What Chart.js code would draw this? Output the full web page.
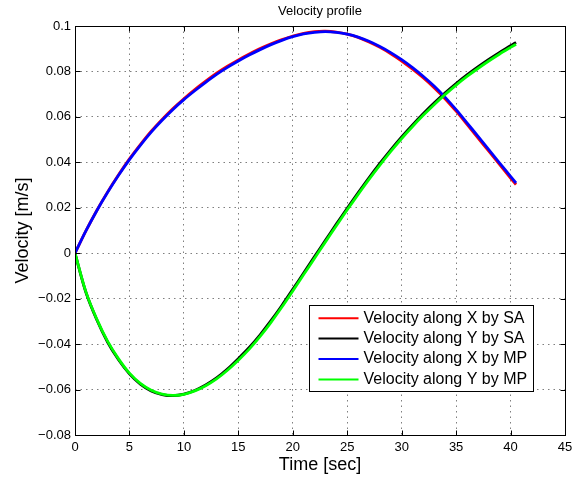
<!DOCTYPE html>
<html>
<head>
<meta charset="utf-8">
<title>Velocity profile</title>
<script src="https://cdn.jsdelivr.net/npm/chart.js@4.4.1/dist/chart.umd.min.js"></script>
<style>
    html, body { margin: 0; padding: 0; background: #fff; }
    canvas { display: block; }
</style>
</head>
<body>
<canvas id="velocityChart" width="584" height="477"></canvas>
<script>
// Sample times [sec]
const timeSec = [0, 1, 2, 3, 4, 5, 6, 7, 8, 9, 10, 11, 12, 13, 14, 15, 16, 17, 18, 19, 20,
    21, 22, 23, 24, 25, 26, 27, 28, 29, 30, 31, 32, 33, 34, 35, 36, 37, 38, 39, 40, 40.5];

// Velocity [m/s]
const vxSA = [0, 0.0098, 0.0188, 0.0270, 0.0345, 0.0415, 0.0478, 0.0537, 0.0589, 0.0637, 0.0680,
    0.0720, 0.0757, 0.0792, 0.0823, 0.0851, 0.0877, 0.0901, 0.0922, 0.0940, 0.0956,
    0.0968, 0.0975, 0.0977, 0.0973, 0.0964, 0.0950, 0.0930, 0.0906, 0.0878, 0.0846,
    0.0810, 0.0771, 0.0727, 0.0679, 0.0625, 0.0567, 0.0508, 0.0449, 0.0390, 0.0331, 0.0302];

const vySA = [0, -0.0172, -0.0293, -0.0392, -0.0469, -0.0531, -0.0576, -0.0606, -0.0622, -0.0627, -0.0620,
    -0.0604, -0.0580, -0.0549, -0.0510, -0.0464, -0.0415, -0.0359, -0.0297, -0.0230, -0.0159,
    -0.0087, -0.0015, 0.0057, 0.0128, 0.0198, 0.0266, 0.0332, 0.0395, 0.0455, 0.0512,
    0.0565, 0.0615, 0.0662, 0.0706, 0.0747, 0.0785, 0.0820, 0.0853, 0.0884, 0.0913, 0.0928];

const vxMP = [0, 0.0098, 0.0187, 0.0268, 0.0343, 0.0412, 0.0475, 0.0533, 0.0585, 0.0633, 0.0676,
    0.0715, 0.0752, 0.0787, 0.0818, 0.0846, 0.0872, 0.0896, 0.0918, 0.0937, 0.0953,
    0.0965, 0.0972, 0.0975, 0.0972, 0.0964, 0.0951, 0.0933, 0.0910, 0.0883, 0.0852,
    0.0817, 0.0778, 0.0735, 0.0686, 0.0632, 0.0574, 0.0515, 0.0456, 0.0397, 0.0338, 0.0309];

const vyMP = [0, -0.0170, -0.0290, -0.0388, -0.0465, -0.0528, -0.0573, -0.0603, -0.0620, -0.0626, -0.0621,
    -0.0606, -0.0583, -0.0553, -0.0515, -0.0471, -0.0422, -0.0366, -0.0304, -0.0237, -0.0166,
    -0.0094, -0.0022, 0.0050, 0.0121, 0.0191, 0.0259, 0.0325, 0.0388, 0.0448, 0.0505,
    0.0558, 0.0608, 0.0655, 0.0699, 0.0740, 0.0778, 0.0813, 0.0846, 0.0877, 0.0906, 0.0920];

const seriesLabels = ['Velocity along X by SA', 'Velocity along Y by SA', 'Velocity along X by MP', 'Velocity along Y by MP'];
const seriesColors = ['#ff0000', '#000000', '#0000ff', '#00ff00'];

const xTickValues = [0, 5, 10, 15, 20, 25, 30, 35, 40, 45];
const xTickLabels = ['0', '5', '10', '15', '20', '25', '30', '35', '40', '45'];
const yTickValues = [-0.08, -0.06, -0.04, -0.02, 0, 0.02, 0.04, 0.06, 0.08, 0.1];
const yTickLabels = ['\u22120.08', '\u22120.06', '\u22120.04', '\u22120.02', '0', '0.02', '0.04', '0.06', '0.08', '0.1'];

const FONT = '"Liberation Sans", Arial, Helvetica, sans-serif';
Chart.defaults.font.family = FONT;
Chart.defaults.color = '#000';

function makeSeries(index, values) {
    return {
        label: seriesLabels[index],
        data: timeSec.map((t, i) => ({ x: t, y: values[i] })),
        borderColor: seriesColors[index],
        backgroundColor: seriesColors[index],
        borderWidth: 2.8,
        pointRadius: 0,
        tension: 0.3,
        fill: false,
        // later series are painted over earlier ones
        order: 4 - index
    };
}

// box around the axes, inward tick marks, title and the legend inside the plot
const axesDecor = {
    id: 'axesDecor',
    afterDraw(chart) {
        const { ctx, chartArea: area, scales } = chart;
        const left = Math.round(area.left) + 0.5;
        const right = Math.round(area.right) + 0.5;
        const top = Math.round(area.top) + 0.5;
        const bottom = Math.round(area.bottom) + 0.5;
        ctx.save();

        ctx.strokeStyle = '#000';
        ctx.lineWidth = 1;
        ctx.strokeRect(left, top, right - left, bottom - top);

        const tickLen = 5;
        ctx.beginPath();
        xTickValues.forEach(v => {
            const px = Math.round(scales.x.getPixelForValue(v)) + 0.5;
            ctx.moveTo(px, bottom); ctx.lineTo(px, bottom - tickLen);
            ctx.moveTo(px, top); ctx.lineTo(px, top + tickLen);
        });
        yTickValues.forEach(v => {
            const py = Math.round(scales.y.getPixelForValue(v)) + 0.5;
            ctx.moveTo(left, py); ctx.lineTo(left + tickLen, py);
            ctx.moveTo(right, py); ctx.lineTo(right - tickLen, py);
        });
        ctx.stroke();

        ctx.fillStyle = '#000';
        ctx.font = '13px ' + FONT;
        ctx.textAlign = 'center';
        ctx.textBaseline = 'middle';
        ctx.fillText('Velocity profile', (area.left + area.right) / 2, 11);

        // legend
        ctx.font = '16px ' + FONT;
        const rowH = 20.4;
        const textW = Math.max(...seriesLabels.map(s => ctx.measureText(s).width));
        const w = Math.round(9 + 40 + 5 + textW + 6);
        const h = Math.round(rowH * seriesLabels.length + 4.5);
        const x0 = Math.round(area.right - 32 - w) + 0.5;
        const y0 = Math.round(area.bottom - 44 - h) + 0.5;
        ctx.fillStyle = '#fff';
        ctx.fillRect(x0, y0, w, h);
        ctx.strokeStyle = '#000';
        ctx.lineWidth = 1;
        ctx.strokeRect(x0, y0, w, h);
        ctx.textAlign = 'left';
        seriesLabels.forEach((label, i) => {
            const cy = y0 + 2.5 + rowH * (i + 0.5);
            ctx.strokeStyle = seriesColors[i];
            ctx.lineWidth = 2;
            ctx.beginPath();
            ctx.moveTo(x0 + 9, cy);
            ctx.lineTo(x0 + 49, cy);
            ctx.stroke();
            ctx.fillStyle = '#000';
            ctx.fillText(label, x0 + 54, cy);
        });
        ctx.restore();
    }
};

const gridStyle = { color: 'rgba(0, 0, 0, 0.5)', lineWidth: 1, drawTicks: false };
const gridBorder = { display: false, dash: [1.5, 4] };

new Chart(document.getElementById('velocityChart'), {
    type: 'line',
    data: {
        datasets: [
            makeSeries(0, vxSA),
            makeSeries(1, vySA),
            makeSeries(2, vxMP),
            makeSeries(3, vyMP)
        ]
    },
    options: {
        responsive: false,
        animation: false,
        devicePixelRatio: 1,
        layout: { padding: { top: 26, right: 19, bottom: 0, left: 0 } },
        plugins: {
            legend: { display: false },
            tooltip: { enabled: false },
            title: { display: false }
        },
        scales: {
            x: {
                type: 'linear',
                min: 0,
                max: 45,
                afterBuildTicks: scale => { scale.ticks = xTickValues.map(v => ({ value: v })); },
                afterFit: scale => { scale.height = 42; },
                ticks: {
                    callback: (value, index) => xTickLabels[index],
                    font: { size: 13 },
                    padding: 5,
                    maxRotation: 0,
                    autoSkip: false
                },
                grid: gridStyle,
                border: gridBorder,
                title: {
                    display: true,
                    text: 'Time [sec]',
                    font: { size: 18 },
                    padding: { top: 0, bottom: 1 }
                }
            },
            y: {
                type: 'linear',
                min: -0.08,
                max: 0.1,
                afterBuildTicks: scale => { scale.ticks = yTickValues.map(v => ({ value: v })); },
                afterFit: scale => { scale.width = 75; },
                ticks: {
                    callback: (value, index) => yTickLabels[index],
                    font: { size: 13 },
                    padding: 4,
                    autoSkip: false
                },
                grid: gridStyle,
                border: gridBorder,
                title: {
                    display: true,
                    text: 'Velocity [m/s]',
                    font: { size: 18 },
                    padding: { top: 12, bottom: 0 }
                }
            }
        }
    },
    plugins: [axesDecor]
});
</script>
</body>
</html>
